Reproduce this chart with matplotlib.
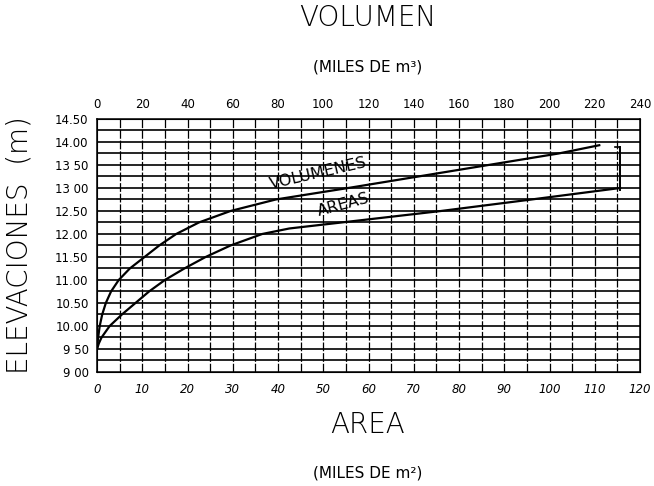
import numpy as np
import matplotlib
matplotlib.use("Agg")
import matplotlib.pyplot as plt

# curva de areas (miles de m2) vs elevacion (m)
area_elev = [9.50, 9.62, 9.75, 10.00, 10.25, 10.50, 10.75, 11.00, 11.25, 11.50,
             11.75, 12.00, 12.12, 12.25, 12.50, 12.75, 13.00]
area_vals = [0.0, 0.4, 1.0, 2.8, 5.5, 8.5, 11.5, 15.0, 19.3, 24.0,
             29.5, 36.5, 42.5, 54.0, 76.0, 96.0, 115.6]

# curva de volumenes (miles de m3) vs elevacion (m)
vol_elev = [9.50, 9.75, 10.00, 10.25, 10.50, 10.75, 11.00, 11.25, 11.50, 11.75,
            12.00, 12.25, 12.50, 12.75, 13.00, 13.25, 13.50, 13.75, 13.93]
vol_vals = [0.0, 0.5, 1.2, 2.3, 3.9, 6.2, 9.6, 14.5, 21.0, 27.5,
            35.0, 45.0, 59.0, 79.0, 111.0, 142.0, 173.0, 204.0, 222.0]

# cierre vertical al final de las curvas
bracket_x = 115.6
bracket_elev = [12.96, 13.89]

area_ticks = list(range(0, 121, 10))
vol_ticks = list(range(0, 241, 20))
elev_ticks = [9.0, 9.5, 10.0, 10.5, 11.0, 11.5, 12.0, 12.5, 13.0, 13.5, 14.0, 14.5]
elev_labels = ["9 00", "9 50", "10.00", "10.50", "11.00", "11.50", "12.00",
               "12.50", "13 00", "13 50", "14.00", "14.50"]

fig = plt.figure(figsize=(6.54, 4.86), dpi=100)
ax = fig.add_axes([97 / 654, 1 - 372 / 486, 543 / 654, 253 / 486])

ax.set_xlim(0, 120)
ax.set_ylim(9.0, 14.5)

# cuadricula
for x in np.arange(5, 120, 5):
    ax.axvline(x, color="black", lw=0.9, ls=(0, (7, 1.5)), zorder=1)
for y in np.arange(9.25, 14.5, 0.25):
    ax.axhline(y, color="black", lw=1.2, zorder=1)
for s in ax.spines.values():
    s.set_linewidth(1.1)

ax.plot(area_vals, area_elev, color="black", lw=1.6, zorder=3)
ax.plot([bracket_x, bracket_x], bracket_elev, color="black", lw=1.4, zorder=3)
ax.plot([bracket_x - 1.2, bracket_x], [bracket_elev[1]] * 2, color="black", lw=1.2)

ax.set_xticks(area_ticks)
ax.set_xticklabels([str(t) for t in area_ticks], fontsize=8.5, style="italic")
ax.set_yticks(elev_ticks)
ax.set_yticklabels(elev_labels, fontsize=8.5)
ax.tick_params(length=0, pad=6)
ax.tick_params(axis="x", pad=8)

ax2 = ax.twiny()
ax2.set_xlim(0, 240)
ax2.plot(vol_vals, vol_elev, color="black", lw=1.6, zorder=3)
ax2.set_xticks(vol_ticks)
ax2.set_xticklabels([str(t) for t in vol_ticks], fontsize=8.5)
ax2.tick_params(length=0, pad=6)

ax.text(48.8, 13.32, "VOLUMENES", rotation=13, ha="center", va="center",
        fontsize=11.5, zorder=4)
ax.text(54.4, 12.63, "AREAS", rotation=15, ha="center", va="center",
        fontsize=11.5, zorder=4)

fig.text(368 / 654, 1 - 18 / 486, "VOLUMEN", ha="center", va="center",
         fontsize=20, fontweight="light")
fig.text(368 / 654, 1 - 67 / 486, "(MILES DE m³)", ha="center", va="center",
         fontsize=11)
fig.text(368 / 654, 1 - 425 / 486, "AREA", ha="center", va="center",
         fontsize=20, fontweight="light")
fig.text(368 / 654, 1 - 473 / 486, "(MILES DE m²)", ha="center", va="center",
         fontsize=11)
fig.text(20 / 654, 1 - 245 / 486, "ELEVACIONES  (m)", ha="center", va="center",
         rotation=90, fontsize=20, fontweight="light")

fig.savefig("out.png", dpi=100)
